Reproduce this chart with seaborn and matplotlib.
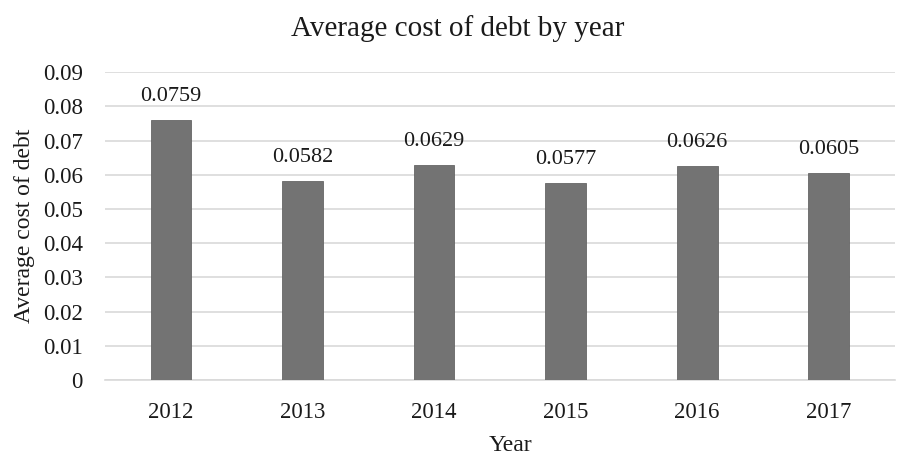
import matplotlib
matplotlib.use("Agg")
import matplotlib.pyplot as plt
import seaborn as sns
import pandas as pd

years = ["2012", "2013", "2014", "2015", "2016", "2017"]
cost_of_debt = [0.0759, 0.0582, 0.0629, 0.0577, 0.0626, 0.0605]
value_labels = ["0.0759", "0.0582", "0.0629", "0.0577", "0.0626", "0.0605"]
y_ticks = [0, 0.01, 0.02, 0.03, 0.04, 0.05, 0.06, 0.07, 0.08, 0.09]
y_tick_labels = ["0", "0.01", "0.02", "0.03", "0.04", "0.05", "0.06", "0.07", "0.08", "0.09"]

sns.set_theme(style="white")
plt.rcParams["font.family"] = ["Liberation Serif", "DejaVu Serif"]

df = pd.DataFrame({"Year": years, "Average cost of debt": cost_of_debt})

fig = plt.figure(figsize=(8.99, 4.59), dpi=100)
ax = fig.add_axes([0.117, 0.172, 0.878, 0.671])

sns.barplot(data=df, x="Year", y="Average cost of debt", ax=ax, color="#737373",
            width=0.31, edgecolor="#666666", linewidth=0.6, saturation=1, zorder=3)

ax.set_ylim(0, 0.09)
ax.set_xlim(-0.5, 5.5)
ax.set_yticks(y_ticks)
ax.set_yticklabels(y_tick_labels)
ax.yaxis.grid(True, color="#d9d9d9", linewidth=1.2, zorder=0)
ax.set_axisbelow(True)
for s in ["top", "right", "left"]:
    ax.spines[s].set_visible(False)
ax.spines["bottom"].set_color("#d9d9d9")
ax.spines["bottom"].set_linewidth(1.2)
ax.tick_params(axis="both", length=0, labelsize=16.5, colors="#1a1a1a")
ax.tick_params(axis="x", pad=16)
ax.tick_params(axis="y", pad=16)

for p, lab in zip(ax.patches, value_labels):
    ax.annotate(lab, (p.get_x() + p.get_width() / 2, p.get_height()),
                xytext=(0, 10), textcoords="offset points", ha="center", va="bottom",
                fontsize=16, color="#1a1a1a")

ax.set_title("Average cost of debt by year", fontsize=21, color="#1a1a1a", pad=26, x=0.446)
ax.set_xlabel("Year", fontsize=17, color="#1a1a1a")
ax.xaxis.set_label_coords(0.513, -0.18)
ax.set_ylabel("Average cost of debt", fontsize=17, color="#1a1a1a", labelpad=6)

fig.savefig("out.png", dpi=100)
